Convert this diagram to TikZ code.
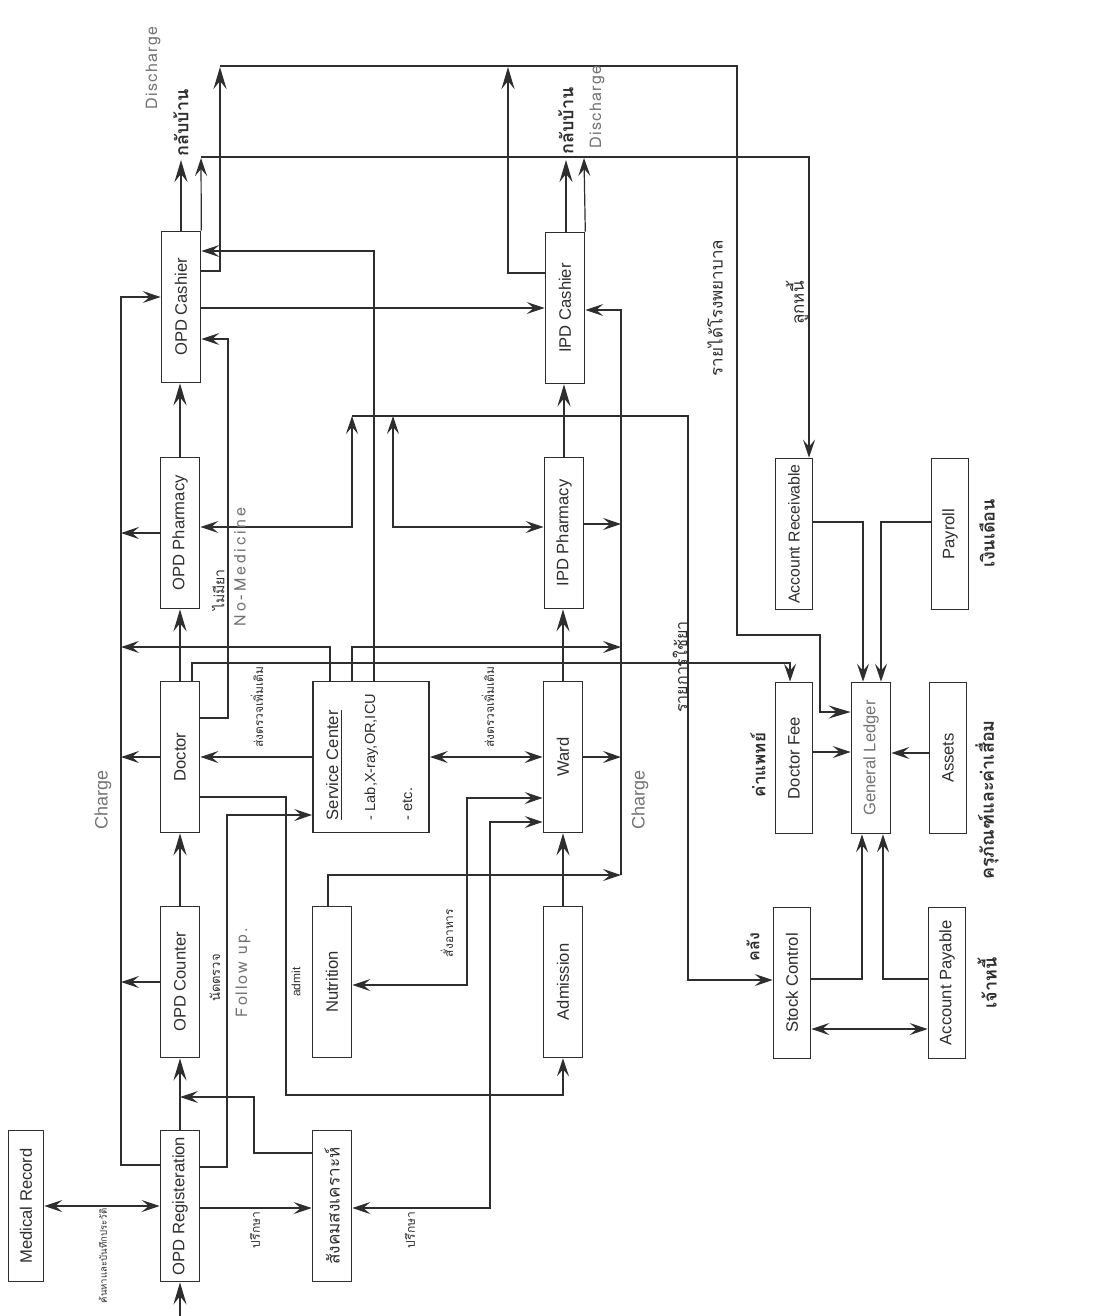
\documentclass[tikz,border=0pt]{standalone}
\usepackage{fontspec}
\setmainfont{Liberation Sans}
\newfontfamily\thaifont[Script=Thai]{Loma}
\usetikzlibrary{arrows.meta}
\definecolor{ink}{gray}{0.18}
\definecolor{pencil}{gray}{0.45}
\newcommand{\boxfont}{\fontsize{8.3}{10}\selectfont}
\newcommand{\vtext}[1]{\rotatebox{90}{#1}}

\tikzset{
  box/.style={draw=ink, line width=0.8pt, minimum width=19.5pt, minimum height=75.5pt,
    inner sep=0pt, text=ink, font=\boxfont},
  flow/.style={draw=ink, line width=1.3pt, -{Stealth[length=11pt,width=6.5pt,inset=4pt]}},
  link/.style={draw=ink, line width=0.6pt, -{Stealth[length=9pt,width=6pt,inset=3.5pt]}},
  both/.style={draw=ink, line width=0.6pt,
    {Stealth[length=9pt,width=6pt,inset=3.5pt]}-{Stealth[length=9pt,width=6pt,inset=3.5pt]}},
  note/.style={rotate=90, text=ink, inner sep=1pt, font=\thaifont\fontsize{6}{7}\selectfont},
  bignote/.style={rotate=90, text=ink, inner sep=1pt, font=\thaifont\bfseries\fontsize{9}{10}\selectfont},
  midnote/.style={rotate=90, text=ink, inner sep=1pt, font=\thaifont\fontsize{8.5}{10}\selectfont},
  hand/.style={rotate=90, text=pencil, inner sep=1pt, font=\thaifont\fontsize{8}{9}\selectfont},
  charge/.style={rotate=90, text=pencil, inner sep=1pt, font=\fontsize{9}{10}\selectfont}
}

\begin{document}
\begin{tikzpicture}[x=0.5pt, y=-0.5pt]
\useasboundingbox (0,0) rectangle (1100,1316);

% boxes, OPD side
\node[box, minimum width=17.5pt] (mr) at (26,1206) {\vtext{Medical Record}};
\node[box] (reg) at (180,1206) {\vtext{OPD Registeration}};
\node[box] (cnt) at (180,982) {\vtext{OPD Counter}};
\node[box] (doc) at (180,757) {\vtext{Doctor}};
\node[box] (pha) at (180,533) {\vtext{OPD Pharmacy}};
\node[box] (csh) at (181,307) {\vtext{OPD Cashier}};
% middle
\node[box] (soc) at (332,1206) {\vtext{\thaifont\fontsize{8.6}{10}\selectfont สังคมสงเคราะห์}};
\node[box] (nut) at (332,982) {\vtext{Nutrition}};
\node[box, minimum width=58pt] (sc) at (371,757)
  {\vtext{\begin{tabular}{@{}l@{}}\underline{Service Center}\\[8.5pt]
   \fontsize{7.3}{9}\selectfont - Lab,X-ray,OR,ICU\\[8.5pt]
   \fontsize{7.3}{9}\selectfont - etc.\end{tabular}}};
% IPD side
\node[box] (adm) at (563,982) {\vtext{Admission}};
\node[box] (ward) at (563,757) {\vtext{Ward}};
\node[box] (ipha) at (564,533) {\vtext{IPD Pharmacy}};
\node[box] (icsh) at (565,308) {\vtext{IPD Cashier}};
% accounts
\node[box, minimum width=18.5pt, font=\fontsize{7.9}{9}\selectfont] (ar) at (794,534) {\vtext{Account Receivable}};
\node[box, minimum width=18.5pt] (pay) at (950,534) {\vtext{Payroll}};
\node[box, minimum width=18.5pt] (fee) at (794,758) {\vtext{Doctor Fee}};
\node[box, text=pencil] (gl) at (871,758) {\vtext{General Ledger}};
\node[box, minimum width=18.5pt] (ast) at (948,758) {\vtext{Assets}};
\node[box, minimum width=18.5pt] (stk) at (792,983) {\vtext{Stock Control}};
\node[box, minimum width=18.5pt] (ap) at (947,983) {\vtext{Account Payable}};

% main flow
\coordinate (entry) at (180,1316);
\draw[flow] (entry) -- (reg.south);
\draw[flow] (reg.north) -- (cnt.south);
\draw[flow] (cnt.north) -- (doc.south);
\draw[flow] (doc.north) -- (pha.south);
\draw[flow] (pha.north) -- (pha.north |- csh.south);
\draw[flow] (adm.north) -- (adm.north |- ward.south);
\draw[flow] (ward.north) -- (ward.north |- ipha.south);
\draw[flow] (ipha.north) -- (ipha.north |- icsh.south);
\draw[both] (mr.east) -- (reg.west);

% OPD charge line
\draw[link] (reg.west |- 0,1165) -- (121,1165) -- (121,297) -- (csh.west |- 0,297);
\draw[link] (cnt.west) -- (121,982);
\draw[link] (doc.west) -- (121,757);
\draw[link] (pha.west) -- (121,533);
\draw[link] (sc.north -| 330,0) -- (330,647) -- (121,647);

% doctor and service center
\draw[link] (sc.west) -- (doc.east);
\draw[both] (sc.east) -- (ward.west);
\draw[link] (sc.north -| 352,0) -- (352,647) -- (621,647);
\draw[link] (sc.north -| 374,0) -- (374,251) -- (csh.east |- 0,251);
\draw[link] (doc.north -| 192,0) -- (192,663) -- (790,663) -- (fee.north -| 790,0);
\draw[link] (doc.east |- 0,718) -- (228,718) -- (228,339) -- (csh.east |- 0,339);
\draw[link] (reg.east |- 0,1167) -- (227,1167) -- (227,815) -- (sc.west |- 0,815);
\draw[link] (doc.east |- 0,797) -- (286,797) -- (286,1095) -- (563,1095) -- (adm.south);

% social work and nutrition
\draw[link] (reg.east |- 0,1208) -- (soc.west |- 0,1208);
\draw[link] (soc.west |- 0,1153) -- (254,1153) -- (254,1097) -- (180,1097);
\draw[both] (soc.east |- 0,1208) -- (490,1208) -- (490,822) -- (ward.west |- 0,822);
\draw[both] (nut.east |- 0,985) -- (467,985) -- (467,798) -- (ward.west |- 0,798);
\draw[link] (nut.north -| 328,0) -- (328,875) -- (621,875);

% IPD charge line
\draw[link] (621,875) -- (621,310) -- (icsh.east |- 0,310);
\draw[link] (ward.east) -- (621,757);
\draw[link] (ipha.east |- 0,524) -- (621,524);

% drugs to stock
\draw[both] (pha.east |- 0,527) -- (352,527) -- (352,416);
\draw[both] (ipha.west |- 0,527) -- (393,527) -- (393,416);
\draw[link] (352,416) -- (688,416) -- (688,980) -- (stk.west |- 0,980);

% cashiers
\draw[link] (csh.east |- 0,308) -- (icsh.west |- 0,308);
\draw[flow] (csh.north) -- (181,160);
\draw[flow] (icsh.north -| 566,0) -- (566,160);
\draw[link] (csh.north east) -- (201,158);
\draw[link] (icsh.north east) -- (584,158);
\draw[link] (201,157) -- (809,157) -- (ar.north -| 809,0);
\draw[flow] (csh.east |- 0,271) -- (220,271) -- (220,67);
\draw[flow] (icsh.west |- 0,273) -- (508,273) -- (508,67);
\draw[flow] (220,66) -- (737,66) -- (737,635) -- (820,635) -- (820,712) -- (gl.west |- 0,712);

% ledger
\draw[link] (fee.east |- 0,752) -- (gl.west |- 0,752);
\draw[link] (ar.east |- 0,522) -- (863,522) -- (gl.north -| 863,0);
\draw[link] (pay.west |- 0,522) -- (881,522) -- (gl.north -| 881,0);
\draw[link] (ast.west |- 0,753) -- (gl.east |- 0,753);
\draw[link] (stk.east |- 0,979) -- (862,979) -- (gl.south -| 862,0);
\draw[link] (ap.west |- 0,979) -- (883,979) -- (gl.south -| 883,0);
\draw[both] (stk.east |- 0,1029) -- (ap.west |- 0,1029);

% labels
\node[note, font=\thaifont\fontsize{4.8}{6}\selectfont] (l1) at (103,1256) {ค้นหาและบันทึกประวัติ};
\node[note] (l2) at (255,1230) {ปรึกษา};
\node[note] (l3) at (410,1230) {ปรึกษา};
\node[note, font=\thaifont\fontsize{6.5}{7}\selectfont] (l4) at (215,978) {นัดตรวจ};
\node[hand] (l5) at (243,973) {\addfontfeatures{LetterSpace=12}Follow up.};
\node[note, font=\fontsize{6}{7}\selectfont] (l6) at (296,982) {admit};
\node[note] (l7) at (447,933) {สั่งอาหาร};
\node[charge] (l8) at (103,800) {Charge};
\node[charge] (l9) at (640,800) {Charge};
\node[note] (l10) at (257,707) {ส่งตรวจเพิ่มเติม};
\node[note] (l11) at (488,707) {ส่งตรวจเพิ่มเติม};
\node[note, font=\thaifont\fontsize{7}{8}\selectfont] (l12) at (218,590) {ไม่มียา};
\node[hand] (l13) at (240,567) {\addfontfeatures{LetterSpace=18}No-Medicine};
\node[hand] (l14) at (153,68) {\addfontfeatures{LetterSpace=8}Discharge};
\node[bignote] (l15) at (181,123) {กลับบ้าน};
\node[bignote] (l16) at (566,121) {กลับบ้าน};
\node[hand] (l17) at (597,107) {\addfontfeatures{LetterSpace=8}Discharge};
\node[midnote, font=\thaifont\fontsize{8}{9}\selectfont] (l18) at (680,667) {รายการใช้ยา};
\node[bignote, font=\thaifont\bfseries\fontsize{8}{9}\selectfont] (l19) at (753,947) {คลัง};
\node[bignote, font=\thaifont\bfseries\fontsize{8.5}{9}\selectfont] (l20) at (758,765) {ค่าแพทย์};
\node[midnote] (l21) at (797,303) {ลูกหนี้};
\node[midnote] (l22) at (715,308) {รายได้โรงพยาบาล};
\node[bignote] (l23) at (987,533) {เงินเดือน};
\node[bignote] (l24) at (987,800) {ครุภัณฑ์และค่าเสื่อม};
\node[bignote] (l25) at (987,983) {เจ้าหนี้};
\end{tikzpicture}
\end{document}
